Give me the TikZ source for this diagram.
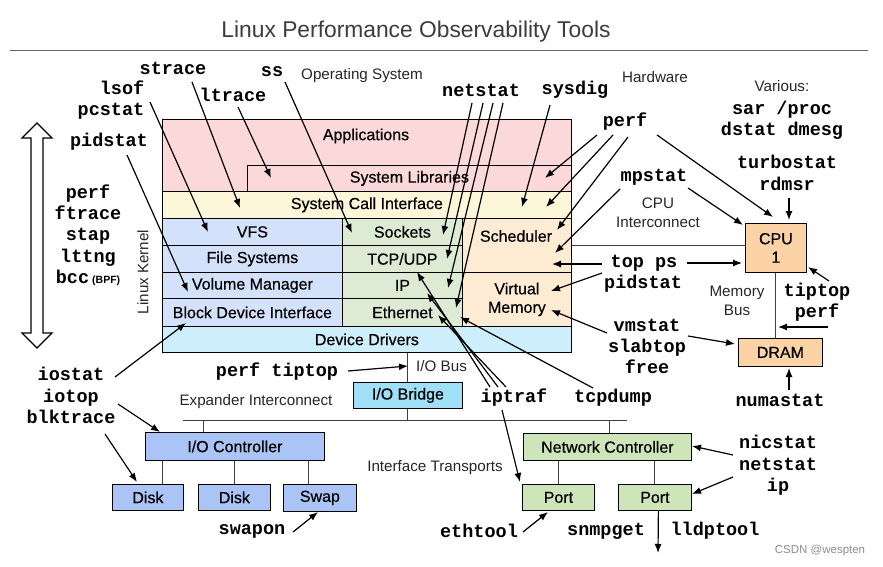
\documentclass[tikz,border=0pt]{standalone}
\usepackage{fontspec}
\setmainfont{Liberation Sans}
\setmonofont{Liberation Mono}
\newfontfamily\boxface[FakeBold=0.4]{Liberation Sans}
\usetikzlibrary{arrows.meta}

\definecolor{appPink}{HTML}{FBD9D8}
\definecolor{callYellow}{HTML}{FDF7DA}
\definecolor{fsBlue}{HTML}{D4E1FA}
\definecolor{netGreen}{HTML}{DDEBD5}
\definecolor{cpuOrange}{HTML}{FDEBD3}
\definecolor{drvCyan}{HTML}{CDEEFB}
\definecolor{bridgeCyan}{HTML}{9FE0F6}
\definecolor{ctrlBlue}{HTML}{A9C4F5}
\definecolor{nicGreen}{HTML}{CDE5B8}
\definecolor{chipOrange}{HTML}{FBD3A6}
\definecolor{titleGray}{HTML}{3C3C3C}

\newcommand{\boxfont}{\boxface\fontsize{16}{18.5}\selectfont}
\newcommand{\notefont}{\fontsize{15.2}{18.5}\selectfont}
\newcommand{\toolfont}{\fontsize{18.5}{21.3}\selectfont\ttfamily\bfseries}

\tikzset{
  layer/.style={draw=black, line width=0.8pt, anchor=north west, inner sep=0pt, font=\boxfont},
  tool/.style={font=\toolfont, align=center, inner sep=0pt},
  note/.style={font=\notefont, text=black!85, align=center, inner sep=0pt},
  arr/.style={-{Latex[length=9pt,width=7pt]}, line width=1.2pt},
  wire/.style={draw=black!75, line width=0.9pt}
}

\begin{document}
\begin{tikzpicture}[x=1pt,y=-1pt]
\useasboundingbox (0,0) rectangle (883,567);

% title
\node[font=\fontsize{22.8}{26}\selectfont, text=titleGray] (title) at (416,32) {Linux Performance Observability Tools};
\draw[black!60, line width=0.8pt] (10,50) -- (868,50);

% software stack
\node[layer, fill=appPink, minimum width=409, minimum height=72] (apps) at (162,119) {};
\node[font=\boxfont] (appsText) at (366,136) {Applications};
\node[layer, fill=appPink, minimum width=324, minimum height=26] (syslib) at (247,165) {System Libraries};
\node[layer, fill=callYellow, minimum width=409, minimum height=27] (syscall) at (162,191) {System Call Interface};
\node[layer, fill=fsBlue, minimum width=180, minimum height=27] (vfs) at (162,218) {VFS};
\node[layer, fill=fsBlue, minimum width=180, minimum height=27] (fs) at (162,245) {File Systems};
\node[layer, fill=fsBlue, minimum width=180, minimum height=26] (volmgr) at (162,272) {Volume Manager};
\node[layer, fill=fsBlue, minimum width=180, minimum height=28] (bdi) at (162,298) {Block Device Interface};
\node[layer, fill=netGreen, minimum width=120, minimum height=27] (sockets) at (342,218) {Sockets};
\node[layer, fill=netGreen, minimum width=120, minimum height=27] (tcp) at (342,245) {TCP/UDP};
\node[layer, fill=netGreen, minimum width=120, minimum height=26] (ip) at (342,272) {IP};
\node[layer, fill=netGreen, minimum width=120, minimum height=28] (eth) at (342,298) {Ethernet};
\node[layer, fill=cpuOrange, minimum width=109, minimum height=54] (sched) at (462,218) {};
\node[font=\boxfont] (schedText) at (516,236) {Scheduler};
\node[layer, fill=cpuOrange, minimum width=109, minimum height=54, align=center] (vmem) at (462,272) {Virtual\\Memory};
\node[layer, fill=drvCyan, minimum width=409, minimum height=26] (drivers) at (162,326) {Device Drivers};
\node[note, rotate=90] (kernelText) at (143,272) {Linux Kernel};

% big double arrow
\draw[line width=1.3pt] (37,123) -- (52,138) -- (43,138) -- (43,333) -- (52,333) -- (37,348)
  -- (22,333) -- (31,333) -- (31,138) -- (22,138) -- cycle;

% hardware
\node[layer, fill=chipOrange, minimum width=61, minimum height=49, align=center] (cpu) at (745,223) {CPU\\1};
\node[layer, fill=chipOrange, minimum width=84, minimum height=28] (dram) at (738,338) {DRAM};
\draw[wire] ([yshift=2pt]cpu.west) -- ([yshift=2pt]cpu.west -| apps.east);
\draw[wire] (cpu.south) -- (cpu.south |- dram.north);

\node[layer, fill=bridgeCyan, minimum width=109, minimum height=26] (bridge) at (353,382) {I/O Bridge};
\node[layer, fill=ctrlBlue, minimum width=179, minimum height=28] (ioc) at (145,432) {I/O Controller};
\node[layer, fill=ctrlBlue, minimum width=71, minimum height=26] (disk1) at (112,484) {Disk};
\node[layer, fill=ctrlBlue, minimum width=72, minimum height=26] (disk2) at (198,484) {Disk};
\node[layer, fill=ctrlBlue, minimum width=73, minimum height=27] (swap) at (283,484) {Swap};
\node[layer, fill=nicGreen, minimum width=168, minimum height=27] (nic) at (523,433) {Network Controller};
\node[layer, fill=nicGreen, minimum width=72, minimum height=26] (port1) at (522,484) {Port};
\node[layer, fill=nicGreen, minimum width=73, minimum height=26] (port2) at (618,484) {Port};

\coordinate (busLeft) at (183,420);
\coordinate (busRight) at (627,420);
\draw[wire] (busLeft) -- (busRight);
\draw[wire] (bridge.north) -- (bridge.north |- drivers.south);
\draw[wire] (bridge.south) -- (bridge.south |- busLeft);
\draw[wire] ([xshift=58pt]ioc.north west) -- ([xshift=58pt]ioc.north west |- busLeft);
\draw[wire] ([xshift=14.5pt]disk1.north) -- ([xshift=14.5pt]disk1.north |- ioc.south);
\draw[wire] (disk2.north) -- (disk2.north |- ioc.south);
\draw[wire] ([xshift=-11.5pt]swap.north) -- ([xshift=-11.5pt]swap.north |- ioc.south);
\draw[wire] ([xshift=2pt]nic.north) -- ([xshift=2pt]nic.north |- busRight);
\draw[wire] (port1.north) -- (port1.north |- nic.south);
\draw[wire] (port2.north) -- (port2.north |- nic.south);

% plain labels
\node[note] (osText) at (362,76) {Operating System};
\node[note] (hwText) at (655,77) {Hardware};
\node[note] (variousText) at (782,86) {Various:};
\node[note] (cpuBusText) at (658,213) {CPU\\Interconnect};
\node[note] (memBusText) at (737,301) {Memory\\Bus};
\node[note, anchor=west] (ioBusText) at (416,366) {I/O Bus};
\node[note] (expText) at (256,402) {Expander Interconnect};
\node[note] (ifaceText) at (435,468) {Interface Transports};
\node[font=\fontsize{11.5}{13}\selectfont, text=black!45] (markText) at (820,551) {CSDN @wespten};

% tools
\node[tool] (straceText) at (173,68) {strace};
\node[tool, align=right] (lsofText) at (111,100) {lsof\\pcstat};
\node[tool] (ltraceText) at (233,95) {ltrace};
\node[tool] (ssText) at (272,72) {ss};
\node[tool] (pidstatText) at (109,142) {pidstat};
\node[tool] (kernelTools) at (88,235) {perf\\ftrace\\stap\\lttng\\bcc\,{\normalfont\fontsize{10.5}{11}\selectfont\bfseries(BPF)}};
\node[tool] (netstatText) at (481,90) {netstat};
\node[tool] (sysdigText) at (575,90) {sysdig};
\node[tool] (perfText) at (625,122) {perf};
\node[tool] (mpstatText) at (654,177) {mpstat};
\node[tool] (procText) at (782,120.5) {sar /proc\\dstat dmesg};
\node[tool] (turboText) at (787,173) {turbostat\\rdmsr};
\node[tool] (topText) at (644,263) {top ps};
\node[tool] (pidstatHwText) at (643,284) {pidstat};
\node[tool] (vmstatText) at (647,346.5) {vmstat\\slabtop\\free};
\node[tool] (tiptopText) at (817,302.5) {tiptop\\perf};
\node[tool] (numaText) at (780,400) {numastat};
\node[tool] (tcpdumpText) at (613,398) {tcpdump};
\node[tool] (iptrafText) at (514,398) {iptraf};
\node[tool] (nicText) at (778,465.5) {nicstat\\netstat\\ip};
\node[tool] (ethtoolText) at (479,531) {ethtool};
\node[tool] (snmpText) at (606,531) {snmpget};
\node[tool] (lldpText) at (715,531) {lldptool};
\node[tool] (swaponText) at (252,531) {swapon};
\node[tool] (perfTiptopText) at (277,372) {perf tiptop};
\node[tool] (iostatText) at (71,395.5) {iostat\\iotop\\blktrace};

% arrow tips
\coordinate (callTipA) at (240,208);
\coordinate (vfsTip) at (208,232);
\coordinate (libTipA) at (271,178);
\coordinate (sockTipA) at (352,233);
\coordinate (volTip) at (188,292);
\coordinate (bdiTip) at (186,323);
\coordinate (iocTip) at (160,432);
\coordinate (diskTip) at (137,482);
\coordinate (ioBusTip) at (408,366);
\coordinate (swapTip) at (318,512);
\coordinate (sockTipB) at (443,235);
\coordinate (tcpTipA) at (447,259);
\coordinate (ipTipA) at (448,288);
\coordinate (ethTipA) at (456,308);
\coordinate (callTipB) at (522,207);
\coordinate (libTipB) at (545,178);
\coordinate (callTipC) at (546,207);
\coordinate (schedTipA) at (557,230);
\coordinate (cpuTipA) at (773,217);
\coordinate (schedTipB) at (555,253);
\coordinate (cpuTipB) at (743,225);
\coordinate (cpuTipC) at (789,220);
\coordinate (schedTipC) at (552,264);
\coordinate (cpuTipD) at (742,263);
\coordinate (vmTipA) at (551,291);
\coordinate (vmTipB) at (551,310);
\coordinate (dramTipA) at (735,344);
\coordinate (cpuTipE) at (808,267);
\coordinate (memBusTip) at (778,327);
\coordinate (dramTipB) at (789,368);
\coordinate (tcpTipB) at (417,272);
\coordinate (ipTipB) at (427,293);
\coordinate (ethTipB) at (438,315);
\coordinate (ethTipC) at (460,317);
\coordinate (portTipA) at (520,482);
\coordinate (portTipB) at (548,512);
\coordinate (nicTip) at (692,446);
\coordinate (portTipC) at (692,494);
\coordinate (linkEnd) at (658,553);

% arrows
\draw[arr] ([shift={(19,14)}]straceText.center) -- (callTipA);
\draw[arr] ([shift={(39,2)}]lsofText.center) -- (vfsTip);
\draw[arr] ([shift={(5,12)}]ltraceText.center) -- (libTipA);
\draw[arr] ([shift={(13,10)}]ssText.center) -- (sockTipA);
\draw[arr] ([shift={(18,13)}]pidstatText.center) -- (volTip);
\draw[arr] ([shift={(44,-18.5)}]iostatText.center) -- (bdiTip);
\draw[arr] ([shift={(47,8.5)}]iostatText.center) -- (iocTip);
\draw[arr] ([shift={(34,38.5)}]iostatText.center) -- (diskTip);
\draw[arr] ([shift={(71,-1)}]perfTiptopText.center) -- (ioBusTip);
\draw[arr] ([shift={(41,1)}]swaponText.center) -- (swapTip);
\draw[arr] ([shift={(-9,13)}]netstatText.center) -- (sockTipB);
\draw[arr] ([shift={(2,13)}]netstatText.center) -- (tcpTipA);
\draw[arr] ([shift={(12,13)}]netstatText.center) -- (ipTipA);
\draw[arr] ([shift={(22,13)}]netstatText.center) -- (ethTipA);
\draw[arr] ([shift={(-25,15)}]sysdigText.center) -- (callTipB);
\draw[arr] ([shift={(-28,13)}]perfText.center) -- (libTipB);
\draw[arr] ([shift={(-12,13)}]perfText.center) -- (callTipC);
\draw[arr] ([shift={(3,15)}]perfText.center) -- (schedTipA);
\draw[arr] ([shift={(32,13)}]perfText.center) -- (cpuTipA);
\draw[arr] ([shift={(-34,12)}]mpstatText.center) -- (schedTipB);
\draw[arr] ([shift={(34,11)}]mpstatText.center) -- (cpuTipB);
\draw[arr] ([shift={(2,25)}]turboText.center) -- (cpuTipC);
\draw[arr] ([shift={(-42,1)}]topText.center) -- (schedTipC);
\draw[arr] ([shift={(43,0)}]topText.center) -- (cpuTipD);
\draw[arr] ([shift={(-41,-11)}]pidstatHwText.center) -- (vmTipA);
\draw[arr] ([shift={(-40,-13.5)}]vmstatText.center) -- (vmTipB);
\draw[arr] ([shift={(41,-10.5)}]vmstatText.center) -- (dramTipA);
\draw[arr] ([shift={(12,-21.5)}]tiptopText.center) -- (cpuTipE);
\draw[arr] ([shift={(11,24.5)}]tiptopText.center) -- (memBusTip);
\draw[arr] ([shift={(9,-10)}]numaText.center) -- (dramTipB);
\draw[arr] ([shift={(-24,-11)}]iptrafText.center) -- (tcpTipB);
\draw[arr] ([shift={(-16,-11)}]iptrafText.center) -- (ipTipB);
\draw[arr] ([shift={(-8,-11)}]iptrafText.center) -- (ethTipB);
\draw[arr] ([shift={(-20,-10)}]tcpdumpText.center) -- (ethTipC);
\draw[arr] ([shift={(-12,12)}]iptrafText.center) -- (portTipA);
\draw[arr] ([shift={(44,1)}]ethtoolText.center) -- (portTipB);
\draw[arr] ([shift={(-45,-10.5)}]nicText.center) -- (nicTip);
\draw[arr] ([shift={(-45,11.5)}]nicText.center) -- (portTipC);
\draw[arr] ([xshift=3.5pt]port2.south) -- (linkEnd);

\end{tikzpicture}
\end{document}
